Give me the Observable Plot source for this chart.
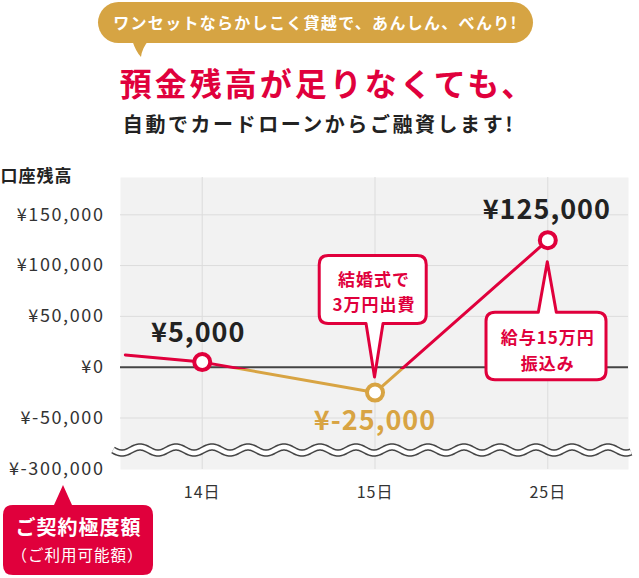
<!DOCTYPE html>
<html>
<head>
<meta charset="utf-8">
<script src="https://cdn.jsdelivr.net/npm/d3@7"></script>
<script src="https://cdn.jsdelivr.net/npm/@observablehq/plot@0.6"></script>
<style>
  body { margin: 0; background: #fff; font-family: "Noto Sans CJK JP", "Noto Sans", sans-serif; }
  #wrap { width: 639px; }
  #head { position: relative; height: 150px; }
  .bubble { position: absolute; left: 98px; top: 2px; width: 435px; height: 41px; border-radius: 21px;
            background: #d6a443; color: #fff; font-size: 16px; font-weight: 700; line-height: 41px; text-align: center;
            letter-spacing: 1.3px; }
  #tail { position: absolute; left: 0; top: 0; }
  .title { position: absolute; left: 0; width: 656px; text-align: center; top: 62px; font-size: 32px;
           font-weight: 700; color: #e0003c; line-height: 40px; letter-spacing: 3px; white-space: nowrap; }
  .sub { position: absolute; left: 0; width: 638px; text-align: center; top: 110px; font-size: 20px;
         font-weight: 700; color: #222; line-height: 28px; letter-spacing: 2.55px; white-space: nowrap; }
</style>
</head>
<body>
<div id="wrap">
  <div id="head">
    <svg id="tail" width="639" height="60"><path d="M132 40 Q136 52 141 57 Q142 48 149 40 Z" fill="#d6a443"/></svg>
    <div class="bubble">ワンセットならかしこく貸越で、あんしん、べんり!</div>
    <div class="title">預金残高が足りなくても、</div>
    <div class="sub">自動でカードローンからご融資します!</div>
  </div>
  <div id="chart"></div>
</div>
<script>
// ---- data ----
const days = ["14日", "15日", "25日"];
const balances = [5000, -25000, 125000];
const balanceLabels = ["¥5,000", "¥-25,000", "¥125,000"];
const leadInPos = -0.445;      // line enters from the left edge
const leadInBalance = 12000;
const yTicks = [150000, 100000, 50000, 0, -50000, -100000];
const yTickLabels = ["¥150,000", "¥100,000", "¥50,000", "¥0", "¥-50,000", "¥-300,000"];
const notes = ["結婚式で\n3万円出費", "給与15万円\n振込み"];
const yTitle = "口座残高";
const limitTitle = "ご契約極度額";
const limitSub = "（ご利用可能額）";

const RED = "#e0003c", GOLD = "#d8a443";
const FONT = '"Noto Sans CJK JP", "Noto Sans", sans-serif';

const dayPts = days.map((d, i) => ({pos: i, day: d, balance: balances[i], label: balanceLabels[i]}));
const linePts = [{pos: leadInPos, balance: leadInBalance}, ...dayPts];

// gradient: red above zero, gold below
function gradientDefs(index, scales, values, dim) {
  const z = scales.y(0) + 2;
  const g = d3.create("svg:g");
  const lg = g.append("defs").append("linearGradient")
    .attr("id", "balGrad").attr("gradientUnits", "userSpaceOnUse")
    .attr("x1", 0).attr("x2", 0).attr("y1", 0).attr("y2", dim.height);
  const o = z / dim.height;
  lg.append("stop").attr("offset", o).attr("stop-color", RED);
  lg.append("stop").attr("offset", o).attr("stop-color", GOLD);
  return g.node();
}

// axis break symbol
function waveMark(index, scales, values, dim) {
  const {width, height, marginLeft, marginRight, marginBottom} = dim;
  const yc = height - marginBottom - 19;
  const x0 = marginLeft - 7, x1 = width - marginRight + 3;
  const pts = d3.range(x0, x1 + 0.5, 1).map(x => [x, yc + 3 * Math.sin((x - x0) / 36 * 2 * Math.PI)]);
  const line = d3.line();
  const g = d3.create("svg:g").attr("fill", "none");
  g.append("path").attr("d", line(pts)).attr("stroke", "#444").attr("stroke-width", 7.5);
  g.append("path").attr("d", line(pts)).attr("stroke", "#fff").attr("stroke-width", 4.5);
  return g.node();
}

function calloutPath(b) {
  const {left, right, top, bottom, r, tipX, tipY, half, side} = b;
  let p = `M${left + r},${top}`;
  if (side === "top") p += `H${tipX - half}L${tipX},${tipY}L${tipX + half},${top}`;
  p += `H${right - r}Q${right},${top} ${right},${top + r}V${bottom - r}Q${right},${bottom} ${right - r},${bottom}`;
  if (side === "bottom") p += `H${tipX + half}L${tipX},${tipY}L${tipX - half},${bottom}`;
  p += `H${left + r}Q${left},${bottom} ${left},${bottom - r}V${top + r}Q${left},${top} ${left + r},${top}Z`;
  return p;
}

function calloutShapes(index, scales, values, dim) {
  const g = d3.create("svg:g");
  // note on day 15
  let px = scales.x(1), py = scales.y(balances[1]);
  g.append("path").attr("d", calloutPath({left: px - 55.3, right: px + 51.7, top: py - 136.7, bottom: py - 68.7,
    r: 9, tipX: px, tipY: py - 15, half: 8.5, side: "bottom"}))
    .attr("fill", "#fff").attr("stroke", RED).attr("stroke-width", 3).attr("stroke-linejoin", "round");
  // note on day 25
  px = scales.x(2); py = scales.y(balances[2]);
  g.append("path").attr("d", calloutPath({left: px - 61.3, right: px + 58.7, top: py + 72.6, bottom: py + 140,
    r: 9, tipX: px, tipY: py + 22, half: 9, side: "top"}))
    .attr("fill", "#fff").attr("stroke", RED).attr("stroke-width", 3).attr("stroke-linejoin", "round");
  // credit limit label
  const L = dim.marginLeft, B = dim.height - dim.marginBottom;
  g.append("path").attr("d", calloutPath({left: L - 117, right: L + 33, top: B + 36, bottom: B + 106,
    r: 10, tipX: L - 57, tipY: B + 16, half: 9, side: "top"}))
    .attr("fill", RED);
  return g.node();
}

const chart = Plot.plot({
  width: 639,
  height: 428,
  marginTop: 27,
  marginLeft: 120,
  marginRight: 11,
  marginBottom: 109,
  x: {type: "linear", domain: [-0.473, 2.467]},
  y: {domain: [-100700, 186700]},
  color: {type: "identity"},
  style: {fontFamily: FONT, fontSize: "17px", color: "#333", background: "transparent", overflow: "visible", letterSpacing: "1px"},
  marks: [
    Plot.frame({fill: "#f2f2f2", stroke: "none"}),
    Plot.gridX({ticks: [0, 1, 2], stroke: "#dcdcdc", strokeOpacity: 1}),
    Plot.gridY({ticks: yTicks.filter(t => t !== 0 && t !== -100000), stroke: "#dcdcdc", strokeOpacity: 1}),
    waveMark,
    Plot.ruleY([0], {stroke: "#444", strokeWidth: 2}),
    gradientDefs,
    Plot.line(linePts, {x: "pos", y: "balance", stroke: "url(#balGrad)", strokeWidth: 3}),
    Plot.dot(dayPts, {x: "pos", y: "balance", r: 8, fill: "white", stroke: d => d.balance >= 0 ? RED : GOLD, strokeWidth: 4}),
    calloutShapes,
    Plot.text([dayPts[0]], {x: "pos", y: "balance", text: "label", dx: -4, dy: -29, fontSize: 27, fontWeight: 700, fill: "#222", fontFamily: FONT}),
    Plot.text([dayPts[1]], {x: "pos", y: "balance", text: "label", dx: 0, dy: 29, fontSize: 27, fontWeight: 700, fill: GOLD, fontFamily: FONT}),
    Plot.text([dayPts[2]], {x: "pos", y: "balance", text: "label", dx: -1, dy: -30, fontSize: 27, fontWeight: 700, fill: "#222", fontFamily: FONT}),
    Plot.text([dayPts[1]], {x: "pos", y: "balance", text: () => notes[0], dx: -1, dy: -102, fontSize: 17, fontWeight: 700, fill: RED, lineHeight: 1.47, fontFamily: FONT}),
    Plot.text([dayPts[2]], {x: "pos", y: "balance", text: () => notes[1], dx: 0, dy: 108, fontSize: 17, fontWeight: 700, fill: RED, lineHeight: 1.53, fontFamily: FONT}),
    Plot.text([yTitle], {frameAnchor: "top-left", text: d => d, dx: -120, dy: -1, textAnchor: "start", lineAnchor: "middle", fontSize: 17, fontWeight: 700, fill: "#222", fontFamily: FONT}),
    Plot.text([limitTitle], {frameAnchor: "bottom-left", text: d => d, dx: -42, dy: 59, textAnchor: "middle", lineAnchor: "middle", fontSize: 20, fontWeight: 700, fill: "#fff", fontFamily: FONT}),
    Plot.text([limitSub], {frameAnchor: "bottom-left", text: d => d, dx: -43, dy: 87, textAnchor: "middle", lineAnchor: "middle", fontSize: 15.5, fill: "#fff", fontFamily: FONT}),
    Plot.axisX({ticks: [0, 1, 2], tickFormat: i => days[i], tickSize: 0, tickPadding: 17, fontSize: 16, label: null}),
    Plot.axisY({ticks: yTicks, tickFormat: v => yTickLabels[yTicks.indexOf(v)], tickSize: 0, tickPadding: 16, fontSize: 18, label: null})
  ]
});
d3.select(chart).selectAll('g[aria-label="y-axis tick label"]').style("letter-spacing", "1.6px");
document.getElementById("chart").appendChild(chart);
</script>
</body>
</html>
